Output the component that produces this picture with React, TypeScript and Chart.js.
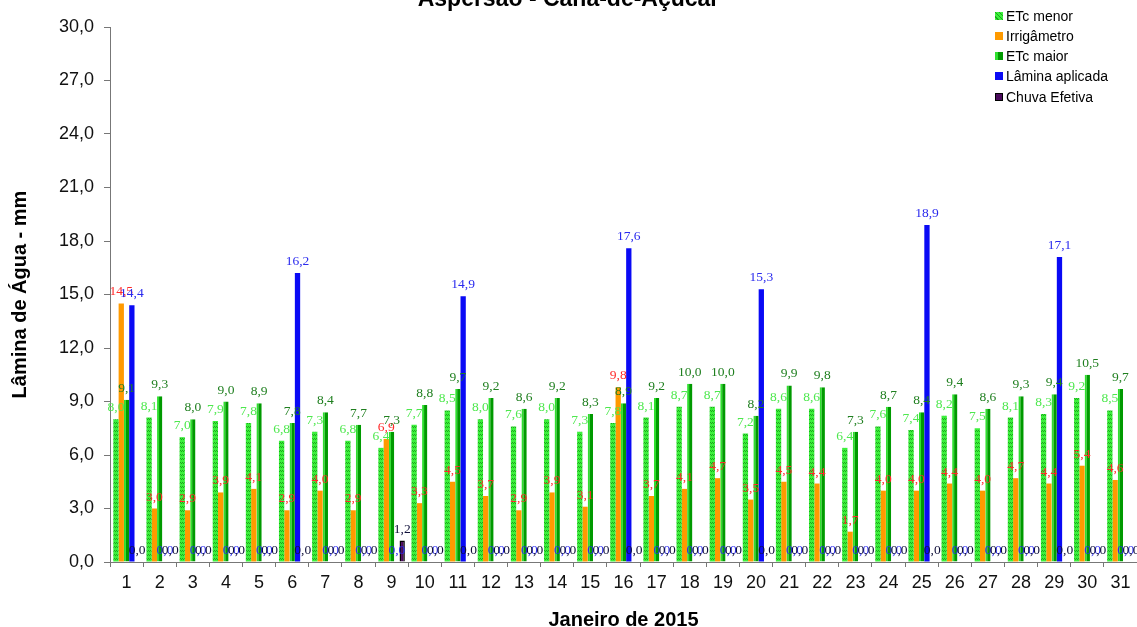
import React, { useEffect, useRef } from 'react';
import { Chart, registerables } from 'chart.js';

Chart.register(...registerables);

// ---------- data ----------
const DAYS = ['1', '2', '3', '4', '5', '6', '7', '8', '9', '10', '11', '12', '13', '14', '15', '16',
  '17', '18', '19', '20', '21', '22', '23', '24', '25', '26', '27', '28', '29', '30', '31'];

const ETC_MENOR = [8.0, 8.1, 7.0, 7.9, 7.8, 6.8, 7.3, 6.8, 6.4, 7.7, 8.5, 8.0, 7.6, 8.0, 7.3, 7.8,
  8.1, 8.7, 8.7, 7.2, 8.6, 8.6, 6.4, 7.6, 7.4, 8.2, 7.5, 8.1, 8.3, 9.2, 8.5];

const IRRIGAMETRO = [14.5, 3.0, 2.9, 3.9, 4.1, 2.9, 4.0, 2.9, 6.9, 3.3, 4.5, 3.7, 2.9, 3.9, 3.1, 9.8,
  3.7, 4.1, 4.7, 3.5, 4.5, 4.4, 1.7, 4.0, 4.0, 4.4, 4.0, 4.7, 4.4, 5.4, 4.6];

const ETC_MAIOR = [9.1, 9.3, 8.0, 9.0, 8.9, 7.8, 8.4, 7.7, 7.3, 8.8, 9.7, 9.2, 8.6, 9.2, 8.3, 8.9,
  9.2, 10.0, 10.0, 8.2, 9.9, 9.8, 7.3, 8.7, 8.4, 9.4, 8.6, 9.3, 9.4, 10.5, 9.7];

const LAMINA_APLICADA = [14.4, 0, 0, 0, 0, 16.2, 0, 0, 0, 0, 14.9, 0, 0, 0, 0, 17.6,
  0, 0, 0, 15.3, 0, 0, 0, 0, 18.9, 0, 0, 0, 17.1, 0, 0];

const CHUVA_EFETIVA = [0, 0, 0, 0, 0, 0, 0, 0, 1.2, 0, 0, 0, 0, 0, 0, 0,
  0, 0, 0, 0, 0, 0, 0, 0, 0, 0, 0, 0, 0, 0, 0];

const SERIES_NAMES = ['ETc menor', 'Irrigâmetro', 'ETc maior', 'Lâmina aplicada', 'Chuva Efetiva'];

const TITLE = 'Aspersão - Cana-de-Açúcar';
const Y_TITLE = 'Lâmina de Água - mm';
const X_TITLE = 'Janeiro de 2015';
const Y_MIN = 0;
const Y_MAX = 30;
const Y_STEP = 3;

// ---------- styles ----------
const LABEL_COLORS = ['#4ee84e', '#ff2a2a', '#1f7f1f', '#2a2aee', '#10103a'];
const SANS = '"Liberation Sans", Arial, sans-serif';

const fmt = (v: number) => v.toFixed(1).replace('.', ',');

function makeZigzagPattern(ctx: CanvasRenderingContext2D): CanvasPattern | string {
  const c = document.createElement('canvas');
  c.width = 4;
  c.height = 4;
  const p = c.getContext('2d');
  if (!p) return '#33e033';
  p.fillStyle = '#3cf03c';
  p.fillRect(0, 0, 4, 4);
  p.fillStyle = '#1aa81a';
  p.fillRect(0, 0, 1, 1);
  p.fillRect(1, 1, 1, 1);
  p.fillRect(2, 0, 1, 1);
  p.fillRect(3, 1, 1, 1);
  const pat = ctx.createPattern(c, 'repeat');
  return pat || '#33e033';
}

const valueLabels = {
  id: 'valueLabels',
  afterDatasetsDraw(chart: any) {
    const ctx = chart.ctx as CanvasRenderingContext2D;
    ctx.save();
    ctx.font = '13.5px "Liberation Serif", "Times New Roman", serif';
    ctx.textAlign = 'center';
    ctx.textBaseline = 'alphabetic';
    chart.data.datasets.forEach((ds: any, i: number) => {
      const meta = chart.getDatasetMeta(i);
      ctx.fillStyle = LABEL_COLORS[i];
      meta.data.forEach((el: any, j: number) => {
        const v = ds.data[j] as number;
        ctx.fillText(fmt(v), el.x, el.y - 8);
      });
    });
    ctx.restore();
  },
};

export default function App() {
  const canvasRef = useRef<HTMLCanvasElement | null>(null);

  useEffect(() => {
    const canvas = canvasRef.current;
    if (!canvas) return;
    const ctx = canvas.getContext('2d');
    if (!ctx) return;
    const zig = makeZigzagPattern(ctx);

    const chart = new Chart(ctx, {
      type: 'bar',
      data: {
        labels: DAYS,
        datasets: [
          {
            label: SERIES_NAMES[0],
            data: ETC_MENOR,
            backgroundColor: zig as any,
            borderWidth: 0,
          },
          {
            label: SERIES_NAMES[1],
            data: IRRIGAMETRO,
            backgroundColor: '#ff9a00',
            borderWidth: 0,
          },
          {
            label: SERIES_NAMES[2],
            data: ETC_MAIOR,
            backgroundColor: '#009a00',
            borderColor: '#2fe02f',
            borderWidth: { left: 2, right: 0, top: 0, bottom: 0 } as any,
            borderSkipped: false,
          },
          {
            label: SERIES_NAMES[3],
            data: LAMINA_APLICADA,
            backgroundColor: '#0a0af5',
            borderWidth: 0,
          },
          {
            label: SERIES_NAMES[4],
            data: CHUVA_EFETIVA,
            backgroundColor: '#4a0a5c',
            borderColor: '#000000',
            borderWidth: 1.5,
          },
        ],
      },
      options: {
        responsive: true,
        maintainAspectRatio: false,
        animation: false,
        layout: { padding: 0 },
        datasets: {
          bar: {
            categoryPercentage: 0.8,
            barPercentage: 1.0,
          },
        },
        plugins: {
          legend: { display: false },
          tooltip: { enabled: false },
          title: {
            display: true,
            text: TITLE,
            color: '#000',
            font: { family: SANS, size: 23, weight: 'bold' },
            padding: { top: 0, bottom: 13.4 },
          },
        },
        scales: {
          x: {
            offset: true,
            grid: {
              display: true,
              offset: true,
              drawOnChartArea: false,
              drawTicks: true,
              tickLength: 5,
              color: '#777',
            },
            border: { display: true, color: '#777', width: 1 },
            ticks: {
              color: '#111',
              font: { family: SANS, size: 18 },
              padding: 5,
              maxRotation: 0,
              autoSkip: false,
            },
            title: {
              display: true,
              text: X_TITLE,
              color: '#000',
              font: { family: SANS, size: 20, weight: 'bold' },
              padding: { top: 0, bottom: 0 },
            },
            afterFit: (scale: any) => {
              scale.height = 70;
            },
          },
          y: {
            min: Y_MIN,
            max: Y_MAX,
            grid: {
              display: true,
              drawOnChartArea: false,
              drawTicks: true,
              tickLength: 6,
              color: '#777',
            },
            border: { display: true, color: '#777', width: 1 },
            ticks: {
              stepSize: Y_STEP,
              color: '#111',
              font: { family: SANS, size: 18 },
              padding: 10,
              callback: (v: any) => fmt(Number(v)),
            },
            title: {
              display: true,
              text: Y_TITLE,
              color: '#000',
              font: { family: SANS, size: 20, weight: 'bold' },
              padding: { top: 8, bottom: 0 },
            },
            afterFit: (scale: any) => {
              scale.width = 110;
            },
          },
        },
      },
      plugins: [valueLabels],
    } as any);

    return () => {
      chart.destroy();
    };
  }, []);

  const legendItems = [
    { name: SERIES_NAMES[0], style: { background: 'repeating-linear-gradient(45deg, #3cf03c 0 2px, #1aa81a 2px 3px)' } },
    { name: SERIES_NAMES[1], style: { background: '#ff9a00' } },
    { name: SERIES_NAMES[2], style: { background: '#009a00', borderLeft: '3px solid #2fe02f', boxSizing: 'border-box' as const } },
    { name: SERIES_NAMES[3], style: { background: '#0a0af5' } },
    { name: SERIES_NAMES[4], style: { background: '#4a0a5c', border: '1px solid #000', boxSizing: 'border-box' as const } },
  ];

  return (
    <div style={{ position: 'fixed', left: 0, top: 0, width: 1137, height: 627, overflow: 'hidden', background: '#fff' }}>
      <div style={{ position: 'absolute', left: 0, top: -14, width: 1137, height: 646 }}>
        <canvas ref={canvasRef} />
      </div>
      <div style={{ position: 'absolute', left: 995, top: 5.5, fontFamily: SANS, fontSize: 14, color: '#000' }}>
        {legendItems.map((it) => (
          <div key={it.name} style={{ display: 'flex', alignItems: 'center', height: 20.25, whiteSpace: 'nowrap' }}>
            <span style={{ display: 'inline-block', width: 8, height: 8, marginRight: 3, ...it.style }} />
            <span>{it.name}</span>
          </div>
        ))}
      </div>
    </div>
  );
}
